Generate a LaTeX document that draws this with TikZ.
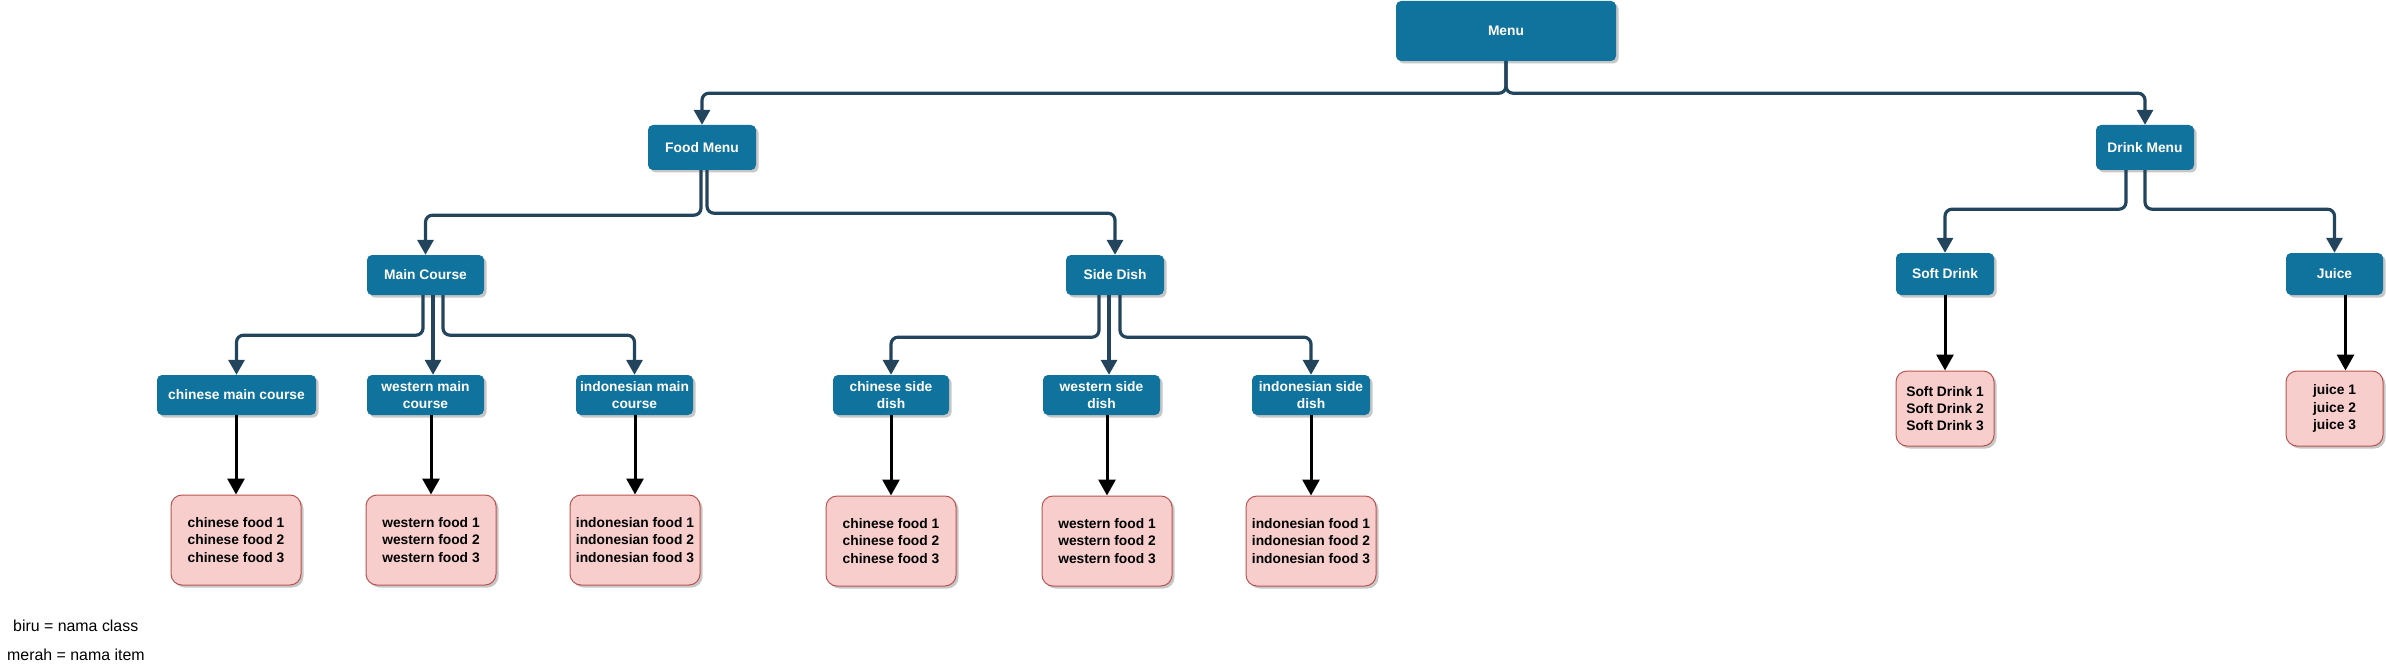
\documentclass[tikz,border=0pt]{standalone}
\usepackage{fontspec}
\setmainfont{Liberation Sans}
\usetikzlibrary{arrows.meta,shadows}
\definecolor{clsblue}{HTML}{10739E}
\definecolor{connblue}{HTML}{23445D}
\definecolor{itemfill}{HTML}{F8CECC}
\definecolor{itemline}{HTML}{B85450}
\begin{document}
\begin{tikzpicture}[x=1pt,y=-1pt,
  shad/.style={drop shadow={shadow xshift=2.5pt,shadow yshift=-2.5pt,fill=black,opacity=0.22}},
  cls/.style={shad,fill=clsblue,text=white,font=\fontsize{13.8}{16.5}\selectfont\bfseries,
    rounded corners=5pt,align=center,inner sep=0pt},
  item/.style={shad,fill=itemfill,draw=itemline,line width=1pt,text=black,
    font=\fontsize{13.8}{17.3}\selectfont\bfseries,rounded corners=11pt,align=center,inner sep=0pt},
  conn/.style={draw=connblue,line width=3.2pt,rounded corners=7pt,-{Triangle[length=15pt,width=16pt]}},
  blk/.style={draw=black,line width=3pt,-{Triangle[length=16pt,width=17pt]}},
  legend/.style={font=\fontsize{15.9}{18}\selectfont,anchor=west,inner sep=0pt}
]
\useasboundingbox (0,0) rectangle (2386,666);

% class boxes
\node[cls,minimum width=220pt,minimum height=60pt] (menu) at (1506,31) {Menu};
\node[cls,minimum width=108pt,minimum height=45pt] (food) at (702,147.5) {Food Menu};
\node[cls,minimum width=98pt,minimum height=45pt] (drink) at (2145,147.5) {Drink Menu};
\node[cls,minimum width=117pt,minimum height=40pt] (main) at (425.5,275) {Main Course};
\node[cls,minimum width=98pt,minimum height=40pt] (side) at (1115,275) {Side Dish};
\node[cls,minimum width=98pt,minimum height=42pt] (soft) at (1945,274) {Soft Drink};
\node[cls,minimum width=97pt,minimum height=42pt] (juice) at (2334.5,274) {Juice};

\node[cls,minimum width=159pt,minimum height=40pt] (cmc) at (236.5,395) {chinese main course};
\node[cls,minimum width=117pt,minimum height=40pt] (wmc) at (425.5,395) {western main\\course};
\node[cls,minimum width=117pt,minimum height=40pt] (imc) at (634.5,395) {indonesian main\\course};
\node[cls,minimum width=116pt,minimum height=40pt] (csd) at (891,395) {chinese side\\dish};
\node[cls,minimum width=117pt,minimum height=40pt] (wsd) at (1101.5,395) {western side\\dish};
\node[cls,minimum width=118pt,minimum height=40pt] (isd) at (1311,395) {indonesian side\\dish};

% item boxes
\node[item,minimum width=130pt,minimum height=90pt] (cf) at (236,540) {chinese food 1\\chinese food 2\\chinese food 3};
\node[item,minimum width=130pt,minimum height=90pt] (wf) at (431,540) {western food 1\\western food 2\\western food 3};
\node[item,minimum width=130pt,minimum height=90pt] (if) at (635,540) {indonesian food 1\\indonesian food 2\\indonesian food 3};
\node[item,minimum width=130pt,minimum height=90pt] (csf) at (891,541) {chinese food 1\\chinese food 2\\chinese food 3};
\node[item,minimum width=130pt,minimum height=90pt] (wsf) at (1107,541) {western food 1\\western food 2\\western food 3};
\node[item,minimum width=130pt,minimum height=90pt] (isf) at (1311,541) {indonesian food 1\\indonesian food 2\\indonesian food 3};
\node[item,minimum width=98pt,minimum height=75pt] (sdi) at (1945,408.5) {Soft Drink 1\\Soft Drink 2\\Soft Drink 3};
\node[item,minimum width=97pt,minimum height=75pt] (ji) at (2334.5,408.5) {juice 1\\juice 2\\juice 3};

% legend
\node[legend] (leg1) at (13,626) {biru = nama class};
\node[legend] (leg2) at (7,655) {merah = nama item};

% class connectors
\draw[conn] (menu.south) -- ++(0,32) -| (food.north);
\draw[conn] (menu.south) -- ++(0,32) -| (drink.north);

\draw[conn] ([xshift=-1pt]food.south) -- ++(0,45) -| (main.north);
\draw[conn] ([xshift=5pt]food.south) -- ++(0,43) -| (side.north);

\draw[conn] ([xshift=-19pt]drink.south) -- ++(0,39) -| (soft.north);
\draw[conn] (drink.south) -- ++(0,39) -| (juice.north);

\draw[conn] ([xshift=-2.5pt]main.south) -- ++(0,40) -| (cmc.north);
\draw[conn] ([xshift=7.5pt]main.south) -- ([xshift=7.5pt]main.south |- wmc.north);
\draw[conn] ([xshift=17.5pt]main.south) -- ++(0,40) -| (imc.north);

\draw[conn] ([xshift=-16pt]side.south) -- ++(0,42) -| (csd.north);
\draw[conn] ([xshift=-6pt]side.south) -- ([xshift=-6pt]side.south |- wsd.north);
\draw[conn] ([xshift=5pt]side.south) -- ++(0,42) -| (isd.north);

% item connectors
\draw[blk] (cf.north |- cmc.south) -- (cf.north);
\draw[blk] (wf.north |- wmc.south) -- (wf.north);
\draw[blk] (if.north |- imc.south) -- (if.north);
\draw[blk] (csd.south) -- (csf.north);
\draw[blk] (wsf.north |- wsd.south) -- (wsf.north);
\draw[blk] (isd.south) -- (isf.north);
\draw[blk] (soft.south) -- (sdi.north);
\draw[blk] ([xshift=11pt]juice.south) -- ([xshift=11pt]ji.north);
\end{tikzpicture}
\end{document}
